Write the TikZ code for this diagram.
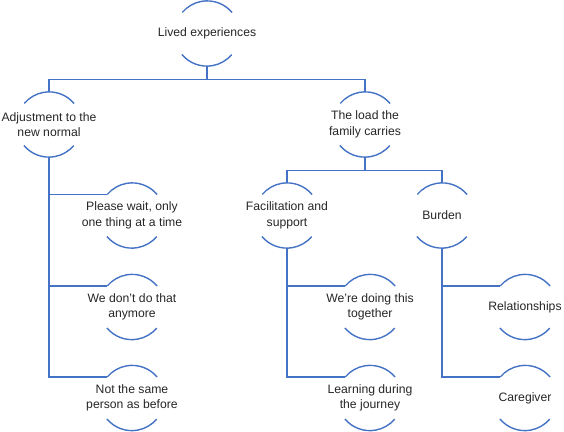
\documentclass[tikz,border=0pt]{standalone}
\usepackage{fontspec}
\setmainfont{Liberation Sans}
\usepackage{tikz}
\definecolor{linkblue}{HTML}{4472C4}

\tikzset{
    hub/.style={circle, minimum size=65pt, inner sep=0pt},
    theme/.style={align=center, text=black!85, font=\fontsize{12.2}{15.5}\selectfont},
    link/.style={draw=linkblue, line width=1.4pt},
}

\begin{document}
\begin{tikzpicture}[x=1pt, y=1pt]
    \useasboundingbox (0,0) rectangle (564,-431);
    % nodes
    \node[hub, label={[theme]center:Lived experiences}] (root) at (207,-33.5) {};
    \node[hub, label={[theme]center:{Adjustment to the\\new normal}}] (adjust) at (49,-124.5) {};
    \node[hub, label={[theme]center:{The load the\\family carries}}] (load) at (365,-124.5) {};
    \node[hub, label={[theme]center:{Please wait, only\\one thing at a time}}] (wait) at (132,-215.5) {};
    \node[hub, label={[theme]center:{We don't do that\\anymore}}] (anymore) at (132,-307) {};
    \node[hub, label={[theme]center:{Not the same\\person as before}}] (person) at (132,-398) {};
    \node[hub, label={[theme]center:{Facilitation and\\support}}] (support) at (287,-215.5) {};
    \node[hub, label={[theme]center:Burden}] (burden) at (442,-215.5) {};
    \node[hub, label={[theme]center:{We're doing this\\together}}] (together) at (370,-307) {};
    \node[hub, label={[theme]center:{Learning during\\the journey}}] (journey) at (370,-398) {};
    \node[hub, label={[theme]center:Relationships}] (relations) at (525,-307) {};
    \node[hub, label={[theme]center:Caregiver}] (caregiver) at (525,-398) {};

    % arcs
    \foreach \n in {root, adjust, load, wait, anymore, person, support, burden, together, journey, relations, caregiver} {
        \draw[link] (\n.40) arc (40:140:32.5pt);
        \draw[link] (\n.-140) arc (-140:-40:32.5pt);
    }

    % connectors
    \draw[link] (root.south) -- ++(0,-13.5) -| (adjust.north);
    \draw[link] (root.south) -- ++(0,-13.5) -| (load.north);
    \draw[link] (load.south) -- ++(0,-13) -| (support.north);
    \draw[link] (load.south) -- ++(0,-13) -| (burden.north);
    \foreach \p/\c in {adjust/wait, adjust/anymore, adjust/person, support/together, support/journey, burden/relations, burden/caregiver}
        \draw[link] (\p.south) |- (\c.140);
\end{tikzpicture}
\end{document}
